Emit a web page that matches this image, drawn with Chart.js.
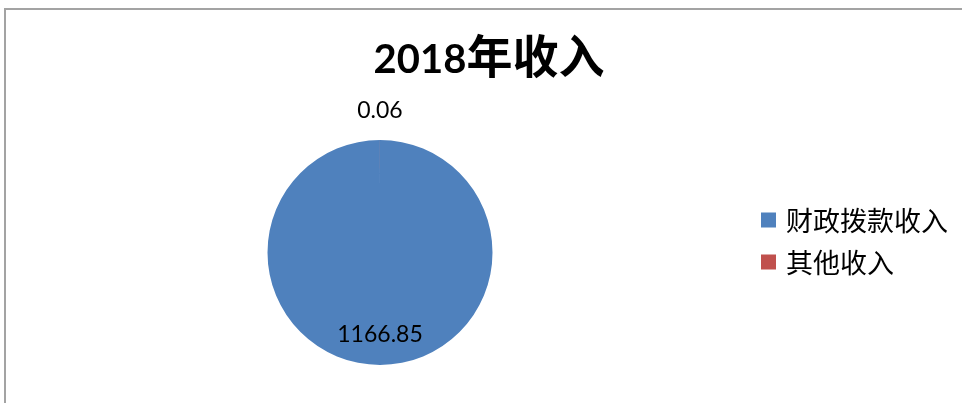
<!DOCTYPE html>
<html>
<head>
<meta charset="utf-8">
<script src="https://cdn.jsdelivr.net/npm/chart.js@4.4.1/dist/chart.umd.min.js"></script>
<style>
  html, body { margin: 0; padding: 0; background: #fff; }
  #wrap { position: relative; width: 962px; height: 403px; overflow: hidden; }
  #frame { position: absolute; left: 4px; top: 8px; width: 1200px; height: 600px;
           border-left: 2px solid #a3a3a3; border-top: 2px solid #a3a3a3; pointer-events: none; }
  canvas { position: absolute; left: 0; top: 0; }
</style>
</head>
<body>
<div id="wrap">
  <canvas id="chartOne" width="962" height="403"></canvas>
  <div id="frame"></div>
</div>
<script>
const titleText = "2018年收入";
const categories = ["财政拨款收入", "其他收入"];
const values = [1166.85, 0.06];
const sliceColors = ["#4F81BD", "#C0504D"];

const CJK = "'Noto Sans CJK SC', sans-serif";
const NUM = "Lato, 'Noto Sans', sans-serif";

// title, legend and value labels drawn after the pie
const extras = {
    id: 'extras',
    afterDatasetsDraw(chart) {
        const ctx = chart.ctx;
        ctx.save();
        ctx.fillStyle = '#000';
        ctx.textBaseline = 'alphabetic';

        // title: digits and CJK part
        const m = titleText.match(/^(\d+)(.*)$/);
        ctx.font = "bold 40px " + NUM;
        const w1 = ctx.measureText(m[1]).width;
        ctx.font = "bold 46px " + CJK;
        const w2 = ctx.measureText(m[2]).width;
        let tx = 489 - (w1 + w2) / 2;
        ctx.textAlign = 'left';
        ctx.font = "bold 40px " + NUM;
        ctx.fillText(m[1], tx, 73);
        ctx.font = "bold 46px " + CJK;
        ctx.fillText(m[2], tx + w1, 73);

        // value labels
        const meta = chart.getDatasetMeta(0);
        ctx.font = "23px " + NUM;
        ctx.textAlign = 'center';
        meta.data.forEach((arc, i) => {
            const p = arc.getProps(['x', 'y', 'startAngle', 'endAngle', 'outerRadius'], true);
            const mid = (p.startAngle + p.endAngle) / 2;
            const inside = (p.endAngle - p.startAngle) > 0.5;
            const r = p.outerRadius * (inside ? 0.72 : 1.267);
            const lx = p.x + Math.cos(mid) * r;
            const ly = p.y + Math.sin(mid) * r;
            ctx.fillText(String(values[i]), lx, ly + 8.3);
        });

        // legend
        ctx.textAlign = 'left';
        ctx.font = "27px " + CJK;
        categories.forEach((c, i) => {
            const cy = 220 + i * 42;
            ctx.fillStyle = sliceColors[i];
            ctx.fillRect(761, cy - 7.5, 15, 15);
            ctx.fillStyle = '#000';
            ctx.fillText(c, 786, cy + 11);
        });
        ctx.restore();
    }
};

const chartOne = document.getElementById("chartOne");
let incomeChart = new Chart(chartOne, {
    type: 'pie',
    data: {
        labels: categories,
        datasets: [{
            data: values,
            backgroundColor: sliceColors,
            borderWidth: 0
        }]
    },
    options: {
        responsive: false,
        animation: false,
        layout: { padding: { top: 140, bottom: 38, left: 100, right: 302 } },
        plugins: {
            legend: { display: false },
            title: { display: false },
            tooltip: { enabled: false }
        }
    },
    plugins: [extras]
});
</script>
</body>
</html>
